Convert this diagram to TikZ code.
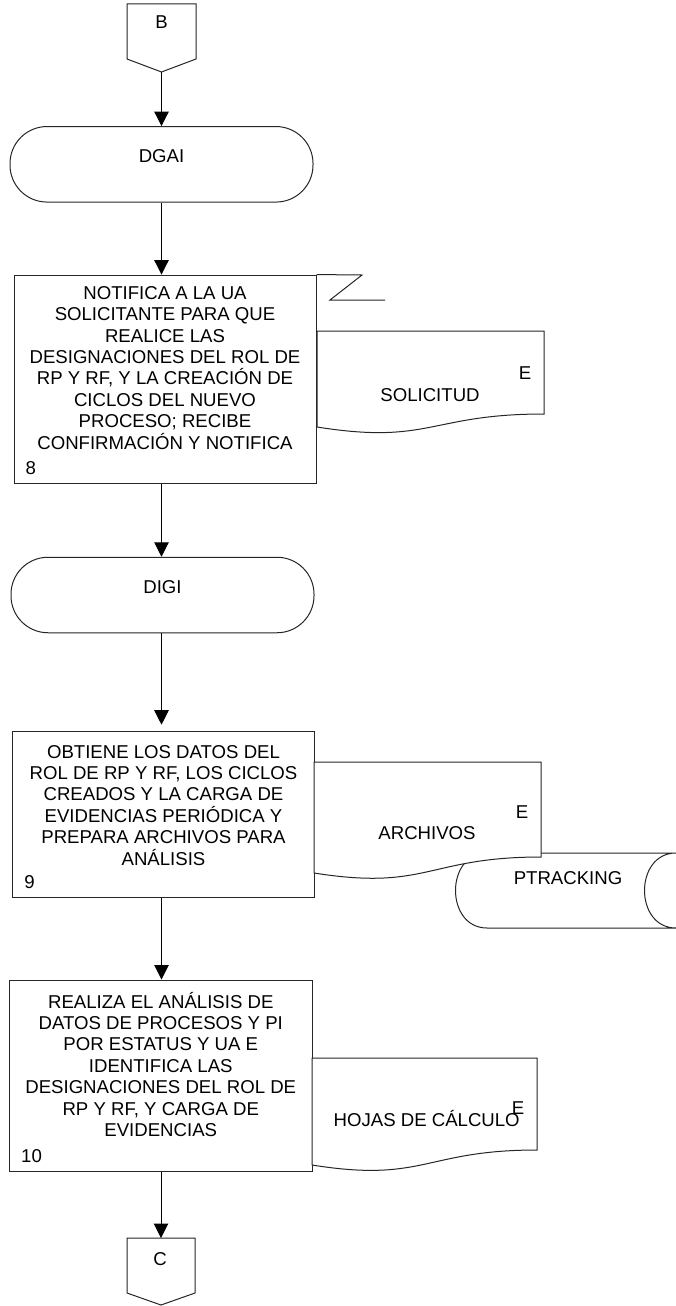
\documentclass[tikz,border=0pt]{standalone}
\usepackage{fontspec}
\setmainfont{Liberation Sans}
\usetikzlibrary{arrows.meta}

% invisible strut that fixes the height of the first text line in the boxes
\newcommand\fstrut{\rule{0pt}{17.5pt}}

\begin{document}
\begin{tikzpicture}[x=1pt,y=-1pt,
  every node/.style={inner sep=0pt, font=\fontsize{18.6}{21.4}\selectfont},
  shapeline/.style={draw=black!85, line width=1pt},
  procbox/.style={shapeline, rectangle, fill=white},
  termbox/.style={shapeline, rectangle, rounded corners=37pt,
                  minimum width=303pt, minimum height=75.5pt},
  flow/.style={draw=black, line width=1pt,
               -{Triangle[width=14.5pt,length=14.5pt]}},
  boxtext/.style={anchor=north, align=center},
  tag/.style={anchor=base west},
  lbl/.style={anchor=base},
]
\useasboundingbox (0,0) rectangle (676,1306);
\fill[white] (0,0) rectangle (676,1306);

% ---- off-page connector B ----
\draw[shapeline, fill=white] (127,4) -- (196,4) -- (196,59) -- (161.5,72) -- (127,59) -- cycle;
\node[lbl] (b) at (161.5,28.6) {B};
\coordinate (btip) at (161.5,72);

% ---- DGAI ----
\node[termbox] (dgai) at (161.5,164.3) {};
\node (dgait) at ([yshift=8.3pt]dgai.center) {DGAI};

% ---- step 8 ----
\node[procbox, minimum width=302pt, minimum height=208.3pt] (p8) at (165,379.2) {};
\node[boxtext] (t8) at ([yshift=-7.1pt]p8.north) {\fstrut NOTIFICA A LA UA\\SOLICITANTE PARA QUE\\REALICE LAS\\DESIGNACIONES DEL ROL DE\\RP Y RF, Y LA CREACIÓN DE\\CICLOS DEL NUEVO\\PROCESO; RECIBE\\CONFIRMACIÓN Y NOTIFICA};
\node[tag] (n8) at ([xshift=12pt,yshift=9.4pt]p8.south west) {8};

% zigzag off the top edge of step 8
\coordinate (z1) at (362,275);
\coordinate (z2) at (330,300);
\coordinate (z3) at (385,300);
\draw[shapeline] (p8.north east) -- (z1) -- (z2) -- (z3);

% document SOLICITUD
\draw[shapeline, fill=white] (317,331) -- (544,331) -- (544,414)
  .. controls (430,414) and (430,445) .. (317,427) -- cycle;
\node[lbl] (e1) at (525,379.6) {E};
\node[lbl] (sol) at (430,401.6) {SOLICITUD};

% ---- DIGI ----
\node[termbox] (digi) at (162.5,595) {};
\node (digit) at ([yshift=8.3pt]digi.center) {DIGI};

% ---- step 9 ----
\node[procbox, minimum width=301.6pt, minimum height=166pt] (p9) at (163.5,814.7) {};
\node[boxtext] (t9) at ([yshift=-9.1pt]p9.north) {\fstrut OBTIENE LOS DATOS DEL\\ROL DE RP Y RF, LOS CICLOS\\CREADOS Y LA CARGA DE\\EVIDENCIAS PERIÓDICA Y\\PREPARA ARCHIVOS PARA\\ANÁLISIS};
\node[tag] (n9) at ([xshift=12pt,yshift=9.4pt]p9.south west) {9};

% stored data PTRACKING
\draw[shapeline, fill=white] (487,853) -- (676,853)
  .. controls (634,853) and (634,928) .. (676,928) -- (487,928)
  .. controls (445,928) and (445,853) .. (487,853) -- cycle;
\node[lbl] (ptr) at (568,884.6) {PTRACKING};

% document ARCHIVOS
\draw[shapeline, fill=white] (314,762) -- (541,762) -- (541,857)
  .. controls (427.5,857) and (427.5,891) .. (314,873) -- cycle;
\node[lbl] (e2) at (522,818.6) {E};
\node[lbl] (arch) at (427,839.6) {ARCHIVOS};

% ---- step 10 ----
\node[procbox, minimum width=302.5pt, minimum height=191.4pt] (p10) at (160.75,1075.7) {};
\node[boxtext] (t10) at ([yshift=-10.8pt]p10.north) {\fstrut REALIZA EL ANÁLISIS DE\\DATOS DE PROCESOS Y PI\\POR ESTATUS Y UA E\\IDENTIFICA LAS\\DESIGNACIONES DEL ROL DE\\RP Y RF, Y CARGA DE\\EVIDENCIAS};
\node[tag] (n10) at ([xshift=12pt,yshift=9.4pt]p10.south west) {10};

% document HOJAS DE CÁLCULO
\draw[shapeline, fill=white] (312,1058) -- (537,1058) -- (537,1150)
  .. controls (424.5,1150) and (424.5,1183) .. (312,1165) -- cycle;
\node[lbl] (e3) at (518,1114.6) {E};
\node[lbl] (hoj) at (426.7,1126.6) {HOJAS DE CÁLCULO};

% ---- off-page connector C ----
\draw[shapeline, fill=white] (127,1238) -- (195,1238) -- (195,1293) -- (161,1305) -- (127,1293) -- cycle;
\node[lbl] (c) at (160,1265) {C};
\coordinate (ctop) at (161,1238);

% ---- flow lines ----
\draw[flow] (btip) -- (btip |- dgai.north);
\draw[flow] (btip |- dgai.south) -- (btip |- p8.north);
\draw[flow] (btip |- p8.south) -- (btip |- digi.north);
\draw[flow, shorten >=6.5pt] (btip |- digi.south) -- (btip |- p9.north);
\draw[flow] (btip |- p9.south) -- (btip |- p10.north);
\draw[flow] (ctop |- p10.south) -- (ctop);
\end{tikzpicture}
\end{document}
